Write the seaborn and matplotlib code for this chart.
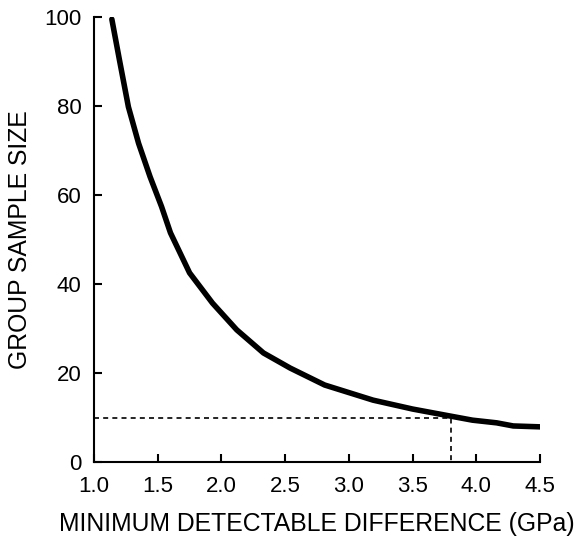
import seaborn as sns
import pandas as pd
import matplotlib.pyplot as plt

# minimum detectable difference (GPa) vs group sample size
diff_gpa = [1.14, 1.20, 1.27, 1.35, 1.44, 1.53, 1.60, 1.75, 1.93, 2.12, 2.33, 2.54,
            2.81, 3.19, 3.50, 3.80, 3.97, 4.16, 4.29, 4.50]
sample_size = [99.5, 90.3, 79.8, 71.6, 64.1, 57.4, 51.5, 42.5, 35.7, 29.7, 24.5, 21.1,
               17.3, 13.9, 11.9, 10.3, 9.4, 8.8, 8.1, 7.9]

# reference guide: n = 10 reached at 3.8 GPa
guide_x = [1.0, 3.8, 3.8]
guide_y = [10, 10, 0]

xticks = [1.0, 1.5, 2.0, 2.5, 3.0, 3.5, 4.0, 4.5]
yticks = [0, 20, 40, 60, 80, 100]

sns.set_style('ticks')
plt.rcParams['font.family'] = ['Liberation Sans', 'DejaVu Sans']

df = pd.DataFrame({'diff': diff_gpa, 'n': sample_size})

fig = plt.figure(figsize=(5.76, 5.45), dpi=100)
ax = fig.add_axes([94 / 576, 1 - 462 / 545, 446 / 576, 445 / 545])

sns.lineplot(data=df, x='diff', y='n', ax=ax, color='black', linewidth=4)
ax.plot(guide_x, guide_y, color='black', linestyle=(0, (3, 2.5)), linewidth=1.2)

ax.set_xlim(1.0, 4.5)
ax.set_ylim(0, 100)
ax.set_xticks(xticks)
ax.set_xticklabels(['%.1f' % t for t in xticks])
ax.set_yticks(yticks)
ax.tick_params(direction='in', length=6, width=1.5, labelsize=16, colors='black',
               labelcolor='black')
ax.tick_params(axis='x', pad=10)
ax.tick_params(axis='y', pad=9)
sns.despine(ax=ax)
for s in ['left', 'bottom']:
    ax.spines[s].set_linewidth(1.5)
    ax.spines[s].set_color('black')

ax.set_xlabel('MINIMUM DETECTABLE DIFFERENCE (GPa)', fontsize=17.8, labelpad=11, color='black')
ax.set_ylabel('GROUP SAMPLE SIZE', fontsize=17.8, labelpad=9, color='black')

fig.savefig('out.png', dpi=100)
